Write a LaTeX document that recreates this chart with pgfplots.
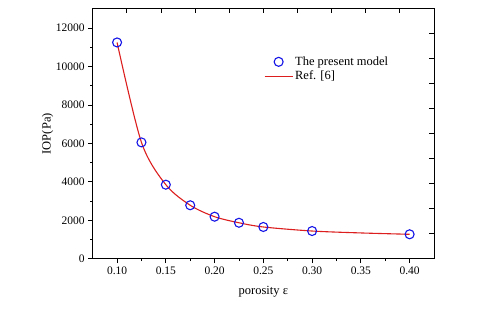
\documentclass[border=0pt]{standalone}
\usepackage{fontspec}
\setmainfont{Liberation Serif}
\usepackage{pgfplots}
\pgfplotsset{compat=1.18}
\definecolor{mblue}{RGB}{20,20,230}
\definecolor{mred}{RGB}{220,30,30}
\pgfplotsset{
  legmark/.style={legend image code/.code={\draw[mark repeat=2,mark phase=2,##1] plot coordinates {(0cm,0cm) (0.49cm,0cm) (0.98cm,0cm)};}},
  legline/.style={legend image code/.code={\draw[##1] (0cm,0cm) -- (0.98cm,0cm);}},
  common/.style={
    scale only axis, width=341.3pt, height=249.9pt,
    xmin=0.075, xmax=0.425, ymin=0, ymax=13000,
    scaled x ticks=false, scaled y ticks=false,
    axis line style={black, line width=0.9pt},
    major tick length=4.5pt, minor tick length=2.5pt,
    every tick/.style={black, line width=0.8pt},
    /pgf/number format/assume math mode=true,
  }
}
\begin{document}
\begin{tikzpicture}[x=1pt,y=1pt]
\useasboundingbox (-92.7,-50.3) rectangle (403.3,258.7);
\begin{axis}[common,
  xtick={0.10,0.15,0.20,0.25,0.30,0.35,0.40},
  ytick={0,2000,4000,6000,8000,10000,12000},
  minor x tick num=1, minor y tick num=1,
  tick align=outside, xtick pos=left, ytick pos=left,
  xticklabel style={font=\fontsize{11.5}{13}\selectfont, /pgf/number format/fixed, /pgf/number format/fixed zerofill, /pgf/number format/precision=2},
  yticklabel style={font=\fontsize{11.5}{13}\selectfont, /pgf/number format/fixed, /pgf/number format/1000 sep={}},
  xlabel={porosity ε},
  ylabel={IOP(Pa)},
  xlabel style={font=\fontsize{12.5}{14}\selectfont, at={(axis description cs:0.5,-0.133)}, anchor=center},
  ylabel style={font=\fontsize{12.5}{14}\selectfont, at={(axis description cs:-0.132,0.5)}, anchor=center},
  legend style={draw=none, fill=none, font=\fontsize{12.5}{15}\selectfont,
    at={(axis description cs:0.493,0.825)}, anchor=north west, row sep=0pt,
    nodes={inner sep=2pt}},
  legend cell align=left,
]
\addplot[only marks, mark=o, mark size=4.5pt, mblue, mark options={line width=1.1pt}, legmark]
  coordinates {(0.100,11250) (0.125,6050) (0.150,3850) (0.175,2780) (0.200,2185) (0.225,1870) (0.250,1650) (0.300,1440) (0.400,1270)};
\addlegendentry{The present model}
\addplot[mred, line width=1.1pt, smooth, no marks, legline]
  coordinates {(0.100,11250) (0.125,6050) (0.150,3850) (0.175,2780) (0.200,2185) (0.225,1870) (0.250,1650) (0.300,1440) (0.350,1340) (0.400,1270)};
\addlegendentry{Ref. [6]}
\end{axis}
\begin{axis}[common,
  xtick={0.110,0.145,0.180,0.215,0.250,0.285,0.320,0.355,0.390},
  ytick={1300,2600,3900,5200,6500,7800,9100,10400,11700},
  xticklabels={}, yticklabels={},
  tick align=inside, xtick pos=right, ytick pos=right,
]
\end{axis}
\end{tikzpicture}
\end{document}
